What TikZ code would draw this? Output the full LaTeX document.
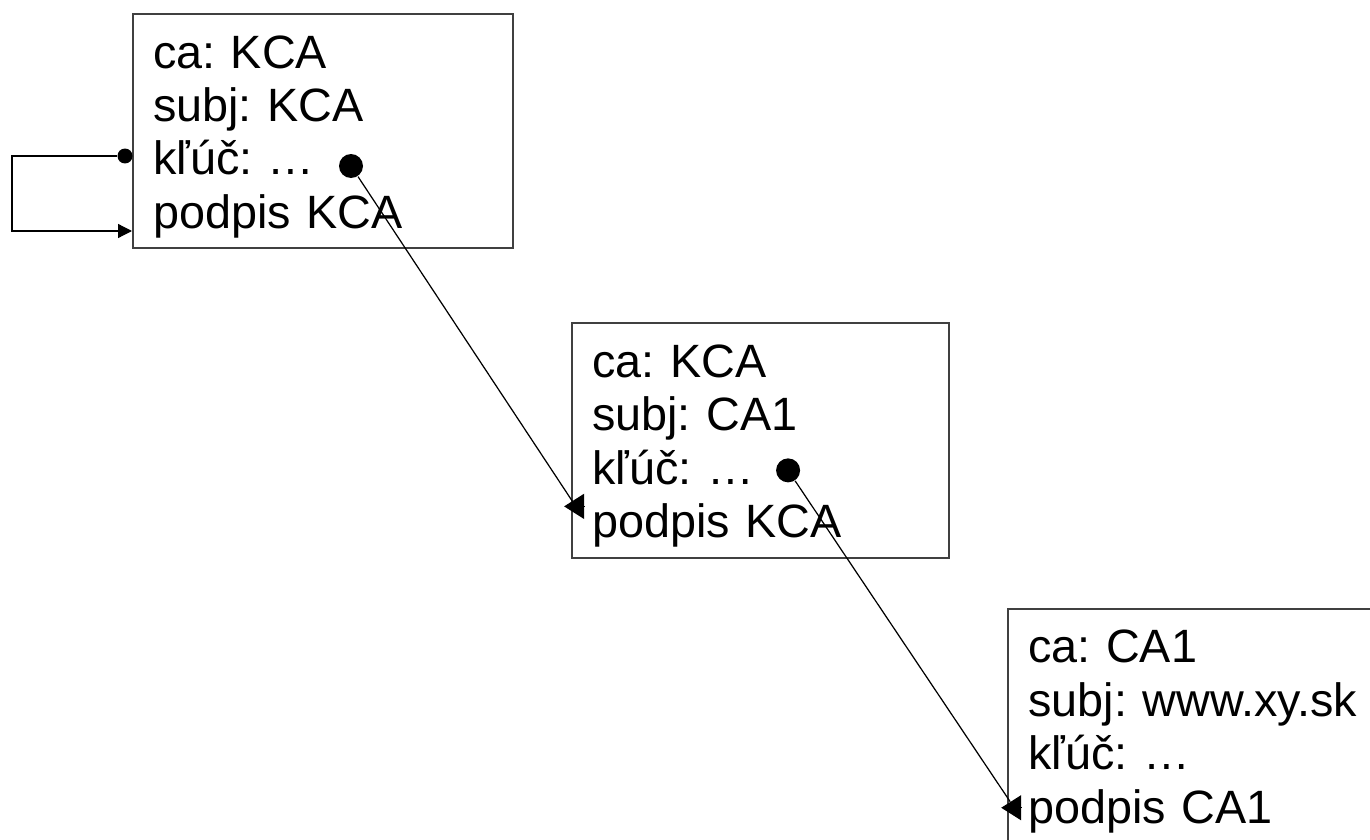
\documentclass[tikz,border=0pt]{standalone}
\usepackage{fontspec}
\setmainfont{Liberation Sans}
\usetikzlibrary{positioning,calc,arrows.meta}

\begin{document}
\begin{tikzpicture}[node distance=0.6cm,
    cert/.style={draw=black!75, line width=0.6pt, anchor=north west, align=left,
      inner xsep=0.2cm, inner ysep=0pt, font=\fontsize{13.3}{15.2}\selectfont\frenchspacing,
      execute at begin node={\rule{0pt}{0.54cm}},
      execute at end node={\rule[-0.2cm]{0pt}{0pt}}},
    keydot/.style={circle, fill, inner sep=0pt, minimum size=0.24cm},
    wire/.style={line width=0.35pt},
    bigtip/.style={-{Triangle[length=0.2cm, width=0.25cm]}}]
    \useasboundingbox (0,0) rectangle (13.7,-8.4);
    \clip (0,0) rectangle (13.7,-8.4);

    % certificates
    \node[cert, text width=3.4cm] (b1) at (1.32,-0.13)
        {ca: KCA\\ subj: KCA\\ kľúč: …\\ podpis KCA};
    \node[cert, text width=3.37cm, below right=0.73cm and 0.57cm of b1] (b2)
        {ca: KCA\\ subj: CA1\\ kľúč: …\\ podpis KCA};
    \node[cert, text width=4cm, below right=0.49cm and 0.57cm of b2] (b3)
        {ca: CA1\\ subj: www.xy.sk\\ kľúč: …\\ podpis CA1};

    % key dots
    \node[keydot] (k1) at ($(b1.north west)+(2.19,-1.53)$) {};
    \node[keydot] (k2) at ($(b2.north west)+(2.17,-1.48)$) {};
    \node[keydot, minimum size=0.15cm] (s1) at ($(b1.north west)+(-0.07,-1.43)$) {};

    \coordinate (c0) at (0.12,0);
    \coordinate (r1) at ($(b1.north west)+(0,-2.18)$);
    \coordinate (j2) at ($(b2.north west)+(0.02,-1.80)$);
    \coordinate (t2) at ($(b2.north west)+(-0.07,-1.84)$);
    \coordinate (j3) at ($(b3.north west)+(0.03,-1.94)$);
    \coordinate (t3) at ($(b3.north west)+(-0.06,-2.00)$);

    % self signed loop
    \draw[wire, -{Triangle[length=0.14cm, width=0.14cm]}] (s1) -- (s1 -| c0) |- (r1);

    % signing chain
    \draw[wire] (k1) -- (j2);
    \draw[wire, bigtip] ($(t2)+(0.2,0)$) -- (t2);
    \draw[wire] (k2) -- (j3);
    \draw[wire, bigtip] ($(t3)+(0.2,0)$) -- (t3);
\end{tikzpicture}
\end{document}
